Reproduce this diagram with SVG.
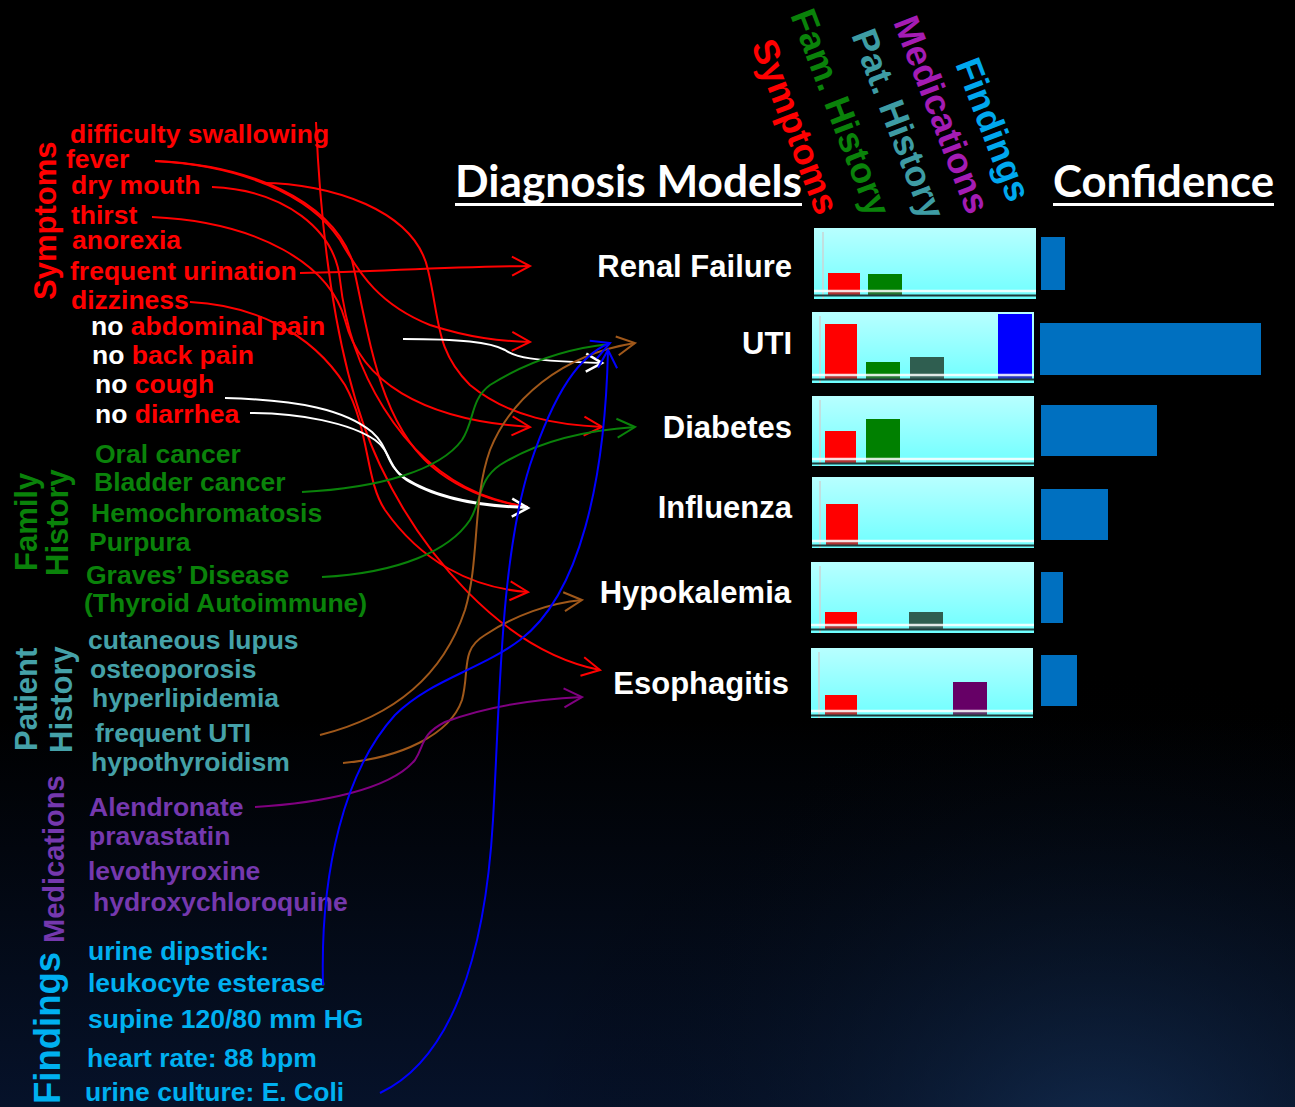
<svg xmlns="http://www.w3.org/2000/svg" width="1295" height="1107" viewBox="0 0 1295 1107">
<defs>
<style>
.l{font-family:"Liberation Sans",Arial,sans-serif;font-weight:bold;font-size:26.5px}
.r{fill:#FF0000}.w{fill:#FFFFFF}.g{fill:#0A820A}.t{fill:#45A1A8}.p{fill:#7538AE}.c{fill:#00B0F0}
.cat{font-family:"Liberation Sans",Arial,sans-serif;font-weight:bold;font-size:31px}
.dx{font-family:"Liberation Sans",Arial,sans-serif;font-weight:bold;font-size:31px;fill:#FFFFFF;text-anchor:end}
.hdr{font-family:Lato,"Liberation Sans",sans-serif;font-weight:bold;font-size:43px;fill:#FFFFFF}
.rot{font-family:"Liberation Sans",Arial,sans-serif;font-weight:bold;font-size:36px}
.cn{fill:none;stroke-width:2}
.panel{fill:url(#pg)}
.vl{stroke:#C8D8D8;stroke-width:2;opacity:0.8}
.wl{stroke:#FFFFFF;stroke-width:2.5;opacity:0.85}
.dl{stroke:#1E3A3A;stroke-width:2}
.sh{fill:#506E6E;opacity:0.45}
.conf{fill:#0070C0}
</style>
<linearGradient id="bg" x1="0" y1="0" x2="0" y2="1">
<stop offset="0" stop-color="#000000"/>
<stop offset="0.65" stop-color="#000000"/>
<stop offset="1" stop-color="#06122A"/>
</linearGradient>
<radialGradient id="bg2" cx="0.85" cy="1.05" r="0.45">
<stop offset="0" stop-color="#17345C" stop-opacity="0.75"/>
<stop offset="1" stop-color="#000000" stop-opacity="0"/>
</radialGradient>
<linearGradient id="pg" x1="0" y1="0" x2="0" y2="1">
<stop offset="0" stop-color="#B8FFFF"/>
<stop offset="1" stop-color="#6EFFFF"/>
</linearGradient>
<marker id="mr" markerWidth="20" markerHeight="22" refX="18" refY="9.5" orient="auto" markerUnits="userSpaceOnUse" overflow="visible"><path d="M0,0 L18,9.5 L0,19" fill="none" stroke="#FF0000" stroke-width="2"/></marker>
<marker id="mw" markerWidth="20" markerHeight="22" refX="16" refY="9" orient="auto" markerUnits="userSpaceOnUse" overflow="visible"><path d="M0,0 L16,9 L0,18" fill="none" stroke="#FFFFFF" stroke-width="2.5"/></marker>
<marker id="mg" markerWidth="20" markerHeight="22" refX="18" refY="9.5" orient="auto" markerUnits="userSpaceOnUse" overflow="visible"><path d="M0,0 L18,9.5 L0,19" fill="none" stroke="#0A820A" stroke-width="2"/></marker>
<marker id="mb" markerWidth="20" markerHeight="22" refX="18" refY="9.5" orient="auto" markerUnits="userSpaceOnUse" overflow="visible"><path d="M0,0 L18,9.5 L0,19" fill="none" stroke="#A0581A" stroke-width="2"/></marker>
<marker id="mp" markerWidth="20" markerHeight="22" refX="18" refY="9.5" orient="auto" markerUnits="userSpaceOnUse" overflow="visible"><path d="M0,0 L18,9.5 L0,19" fill="none" stroke="#800080" stroke-width="2"/></marker>
<marker id="mbl" markerWidth="20" markerHeight="22" refX="18" refY="9.5" orient="auto" markerUnits="userSpaceOnUse" overflow="visible"><path d="M0,0 L18,9.5 L0,19" fill="none" stroke="#0000FF" stroke-width="2"/></marker>
</defs>

<rect x="0" y="0" width="1295" height="1107" fill="url(#bg)"/>
<rect x="0" y="0" width="1295" height="1107" fill="url(#bg2)"/>

<!-- Category labels -->
<g id="cat-symptoms"><text class="cat r" transform="translate(56,300) rotate(-90)">Symptoms</text></g>
<g id="cat-family"><text class="cat g" transform="translate(37,571) rotate(-90)">Family</text><text class="cat g" transform="translate(68,576) rotate(-90)">History</text></g>
<g id="cat-patient"><text class="cat t" transform="translate(37,751) rotate(-90)">Patient</text><text class="cat t" transform="translate(72,753) rotate(-90)">History</text></g>
<g id="cat-medications"><text class="cat p" style="font-size:29px" transform="translate(64,943) rotate(-90)">Medications</text></g>
<g id="cat-findings"><text class="cat c" style="font-size:36.5px" transform="translate(60,1104) rotate(-90)">Findings</text></g>

<!-- Symptoms -->
<g id="s-difficulty-swallowing"><text class="l r" x="70" y="143">difficulty swallowing</text></g>
<g id="s-fever"><text class="l r" x="66" y="168">fever</text></g>
<g id="s-dry-mouth"><text class="l r" x="71" y="194">dry mouth</text></g>
<g id="s-thirst"><text class="l r" x="71" y="224">thirst</text></g>
<g id="s-anorexia"><text class="l r" x="72" y="249">anorexia</text></g>
<g id="s-frequent-urination"><text class="l r" x="70" y="280">frequent urination</text></g>
<g id="s-dizziness"><text class="l r" x="71" y="309">dizziness</text></g>
<g id="s-no-abdominal-pain"><text class="l" x="91" y="335"><tspan class="w">no </tspan><tspan class="r">abdominal pain</tspan></text></g>
<g id="s-no-back-pain"><text class="l" x="92" y="364"><tspan class="w">no </tspan><tspan class="r">back pain</tspan></text></g>
<g id="s-no-cough"><text class="l" x="95" y="393"><tspan class="w">no </tspan><tspan class="r">cough</tspan></text></g>
<g id="s-no-diarrhea"><text class="l" x="95" y="423"><tspan class="w">no </tspan><tspan class="r">diarrhea</tspan></text></g>

<!-- Family history -->
<g id="f-oral-cancer"><text class="l g" x="95" y="463">Oral cancer</text></g>
<g id="f-bladder-cancer"><text class="l g" x="94" y="491">Bladder cancer</text></g>
<g id="f-hemochromatosis"><text class="l g" x="91" y="522">Hemochromatosis</text></g>
<g id="f-purpura"><text class="l g" x="89" y="551">Purpura</text></g>
<g id="f-graves"><text class="l g" x="86" y="584">Graves’ Disease</text><text class="l g" x="84" y="612">(Thyroid Autoimmune)</text></g>

<!-- Patient history -->
<g id="p-cutaneous-lupus"><text class="l t" x="88" y="649">cutaneous lupus</text></g>
<g id="p-osteoporosis"><text class="l t" x="90" y="678">osteoporosis</text></g>
<g id="p-hyperlipidemia"><text class="l t" x="92" y="707">hyperlipidemia</text></g>
<g id="p-frequent-uti"><text class="l t" x="95" y="742">frequent UTI</text></g>
<g id="p-hypothyroidism"><text class="l t" x="91" y="771">hypothyroidism</text></g>

<!-- Medications -->
<g id="m-alendronate"><text class="l p" x="89" y="816">Alendronate</text></g>
<g id="m-pravastatin"><text class="l p" x="89" y="845">pravastatin</text></g>
<g id="m-levothyroxine"><text class="l p" x="88" y="880">levothyroxine</text></g>
<g id="m-hydroxychloroquine"><text class="l p" x="93" y="911">hydroxychloroquine</text></g>

<!-- Findings -->
<g id="x-urine-dipstick"><text class="l c" x="88" y="960">urine dipstick:</text><text class="l c" x="88" y="992">leukocyte esterase</text></g>
<g id="x-supine"><text class="l c" x="88" y="1028">supine 120/80 mm HG</text></g>
<g id="x-heart-rate"><text class="l c" x="87" y="1067">heart rate: 88 bpm</text></g>
<g id="x-urine-culture"><text class="l c" x="85" y="1101">urine culture: E. Coli</text></g>

<!-- Headers -->
<g id="hdr-models"><text class="hdr" x="455" y="197" textLength="347" lengthAdjust="spacingAndGlyphs">Diagnosis Models</text><rect x="455" y="203" width="347" height="3" fill="#FFFFFF"/></g>
<g id="hdr-confidence"><text class="hdr" x="1053" y="197" textLength="221" lengthAdjust="spacingAndGlyphs">Confidence</text><rect x="1053" y="203" width="221" height="3" fill="#FFFFFF"/></g>
<g id="hdr-columns">
<text class="rot" fill="#FF0000" transform="translate(751,45) rotate(69)">Symptoms</text>
<text class="rot" fill="#0A820A" transform="translate(790,15) rotate(69)">Fam. History</text>
<text class="rot" fill="#3E9CA4" transform="translate(851,35) rotate(69)">Pat. History</text>
<text class="rot" fill="#A41CB4" transform="translate(893,22) rotate(69)">Medications</text>
<text class="rot" fill="#00A8EE" transform="translate(955,64) rotate(69)">Findings</text>
</g>

<!-- Diagnosis rows -->
<g id="dx-renal-failure">
<text class="dx" x="792" y="277">Renal Failure</text>
<rect class="panel" x="814" y="228" width="222" height="71"/>
<line class="vl" x1="823" y1="232" x2="823" y2="299"/>
<rect x="828" y="273" width="32" height="22" fill="#FF0000"/>
<rect x="868" y="274" width="34" height="21" fill="#008000"/>
<rect class="sh" x="828" y="291" width="32" height="4"/><rect class="sh" x="868" y="291" width="34" height="4"/>
<line class="wl" x1="814" y1="291" x2="1036" y2="291"/>
<line class="dl" x1="814" y1="295.5" x2="1036" y2="295.5"/>
<rect class="conf" x="1041" y="237" width="24" height="53"/>
</g>
<g id="dx-uti">
<text class="dx" x="792" y="354">UTI</text>
<rect class="panel" x="812" y="312" width="222" height="71"/>
<line class="vl" x1="820" y1="316" x2="820" y2="383"/>
<rect x="825" y="324" width="32" height="55" fill="#FF0000"/>
<rect x="866" y="362" width="34" height="17" fill="#008000"/>
<rect x="910" y="357" width="34" height="22" fill="#2F5E50"/>
<rect x="998" y="314" width="34" height="65" fill="#0000FF"/>
<rect class="sh" x="825" y="375" width="32" height="4"/><rect class="sh" x="866" y="375" width="34" height="4"/><rect class="sh" x="910" y="375" width="34" height="4"/><rect class="sh" x="998" y="375" width="34" height="4"/>
<line class="wl" x1="812" y1="375" x2="1034" y2="375"/>
<line class="dl" x1="812" y1="379.5" x2="1034" y2="379.5"/>
<rect class="conf" x="1040" y="323" width="221" height="52"/>
</g>
<g id="dx-diabetes">
<text class="dx" x="792" y="438">Diabetes</text>
<rect class="panel" x="812" y="396" width="222" height="70"/>
<line class="vl" x1="820" y1="400" x2="820" y2="466"/>
<rect x="825" y="431" width="31" height="32" fill="#FF0000"/>
<rect x="866" y="419" width="34" height="44" fill="#008000"/>
<rect class="sh" x="825" y="459" width="31" height="4"/><rect class="sh" x="866" y="459" width="34" height="4"/>
<line class="wl" x1="812" y1="459" x2="1034" y2="459"/>
<line class="dl" x1="812" y1="463.5" x2="1034" y2="463.5"/>
<rect class="conf" x="1041" y="405" width="116" height="51"/>
</g>
<g id="dx-influenza">
<text class="dx" x="792" y="518">Influenza</text>
<rect class="panel" x="812" y="477" width="222" height="71"/>
<line class="vl" x1="820" y1="481" x2="820" y2="548"/>
<rect x="826" y="504" width="32" height="41" fill="#FF0000"/>
<rect class="sh" x="826" y="541" width="32" height="4"/>
<line class="wl" x1="812" y1="541" x2="1034" y2="541"/>
<line class="dl" x1="812" y1="545.5" x2="1034" y2="545.5"/>
<rect class="conf" x="1041" y="489" width="67" height="51"/>
</g>
<g id="dx-hypokalemia">
<text class="dx" x="791" y="603">Hypokalemia</text>
<rect class="panel" x="811" y="562" width="223" height="71"/>
<line class="vl" x1="820" y1="566" x2="820" y2="633"/>
<rect x="825" y="612" width="32" height="17" fill="#FF0000"/>
<rect x="909" y="612" width="34" height="17" fill="#2F5E50"/>
<rect class="sh" x="825" y="625" width="32" height="4"/><rect class="sh" x="909" y="625" width="34" height="4"/>
<line class="wl" x1="811" y1="625" x2="1034" y2="625"/>
<line class="dl" x1="811" y1="629.5" x2="1034" y2="629.5"/>
<rect class="conf" x="1041" y="572" width="22" height="51"/>
</g>
<g id="dx-esophagitis">
<text class="dx" x="789" y="694">Esophagitis</text>
<rect class="panel" x="811" y="648" width="222" height="70"/>
<line class="vl" x1="819" y1="652" x2="819" y2="718"/>
<rect x="825" y="695" width="32" height="20" fill="#FF0000"/>
<rect x="953" y="682" width="34" height="33" fill="#660066"/>
<rect class="sh" x="825" y="711" width="32" height="4"/><rect class="sh" x="953" y="711" width="34" height="4"/>
<line class="wl" x1="811" y1="711" x2="1033" y2="711"/>
<line class="dl" x1="811" y1="715.5" x2="1033" y2="715.5"/>
<rect class="conf" x="1041" y="655" width="36" height="51"/>
</g>

<!-- Connectors -->
<g id="connectors">
<path class="cn" stroke="#FF0000" marker-end="url(#mr)" d="M316,122 C322,260 340,380 380,465 C420,550 500,650 600,670"/>
<path class="cn" stroke="#FF0000" marker-end="url(#mr)" d="M190,302 C250,305 310,330 345,385 C370,430 365,480 385,510 C420,560 470,588 528,592"/>
<path class="cn" stroke="#FF0000" marker-end="url(#mr)" d="M155,161 C240,165 310,195 340,240 C360,275 380,305 430,325 C470,338 500,341 530,342"/>
<path class="cn" stroke="#FF0000" d="M155,161 C250,165 330,200 352,260 C370,340 380,430 440,473 C470,495 500,503 528,507"/>
<path class="cn" stroke="#FF0000" d="M212,187 C285,190 335,230 340,280 C350,370 400,460 480,494 C500,502 515,505 528,507"/>
<path class="cn" stroke="#FF0000" marker-end="url(#mr)" d="M262,183 C330,183 415,210 428,270 C440,320 435,350 470,385 C510,418 560,425 602,427"/>
<path class="cn" stroke="#FF0000" marker-end="url(#mr)" d="M152,217 C260,222 330,265 345,320 C360,380 420,420 530,427"/>
<path class="cn" stroke="#FF0000" marker-end="url(#mr)" d="M300,273 C380,272 430,267 530,266"/>
<path class="cn" stroke="#FFFFFF" marker-end="url(#mw)" d="M403,339 C460,339 490,342 505,350 C515,357 530,361 602,363"/>
<path class="cn" stroke="#FFFFFF" d="M225,398 C300,400 345,410 372,432 C390,448 385,465 405,478 C440,500 490,506 528,507"/>
<path class="cn" stroke="#FFFFFF" marker-end="url(#mw)" d="M250,413 C300,413 350,423 375,440 C392,452 388,470 410,482 C445,502 490,507 528,508"/>
<path class="cn" stroke="#0A820A" d="M302,492 C380,488 440,470 462,440 C475,420 470,400 490,385 C530,360 570,348 610,344"/>
<path class="cn" stroke="#0A820A" marker-end="url(#mg)" d="M322,577 C400,573 450,550 470,520 C482,500 478,480 500,465 C540,440 590,430 635,427"/>
<path class="cn" stroke="#A0581A" marker-end="url(#mb)" d="M320,735 C400,715 445,670 465,610 C480,560 472,500 490,450 C510,400 560,355 635,343"/>
<path class="cn" stroke="#A0581A" marker-end="url(#mb)" d="M343,763 C400,758 450,735 462,700 C470,670 460,650 485,635 C515,615 550,603 582,600"/>
<path class="cn" stroke="#800080" marker-end="url(#mp)" d="M255,807 C320,803 390,790 415,760 C425,745 420,735 445,722 C490,705 540,699 582,697"/>
<path class="cn" stroke="#0000FF" marker-end="url(#mbl)" d="M323,985 C320,870 345,770 395,715 C430,680 480,670 520,640 C580,595 605,480 608,350"/>
<path class="cn" stroke="#0000FF" marker-end="url(#mbl)" d="M380,1093 C450,1060 485,960 493,820 C500,700 500,560 530,465 C555,390 580,355 610,343"/>
</g>
</svg>
